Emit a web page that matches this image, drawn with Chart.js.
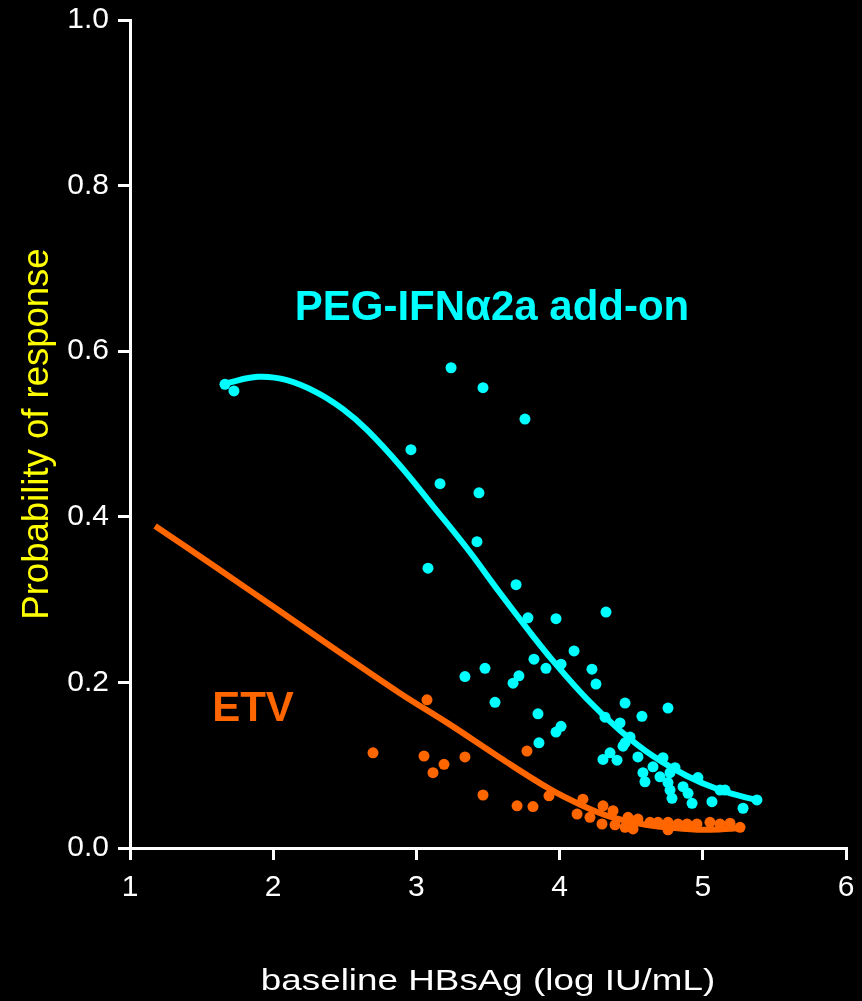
<!DOCTYPE html>
<html>
<head>
<meta charset="utf-8">
<script src="https://cdn.jsdelivr.net/npm/chart.js@4/dist/chart.umd.min.js"></script>
<style>
  html, body { margin: 0; padding: 0; background: #000; overflow: hidden; }
  #wrap { width: 862px; height: 1001px; position: relative; }
</style>
</head>
<body>
<div id="wrap"><canvas id="chart"></canvas></div>
<script>
// PEG-IFN add-on: observed points
const pegX = [1.663, 1.726, 3.242, 3.465, 3.758, 2.962, 3.165, 3.437, 3.423, 3.081,
  3.696, 3.779, 3.975, 4.324, 3.339, 3.479, 3.549, 3.675, 3.716, 3.821,
  3.905, 4.010, 4.101, 4.226, 4.254, 3.849, 3.856, 3.975, 4.010, 4.457,
  4.422, 4.575, 4.757, 4.317, 4.492, 4.443, 4.303, 4.352, 4.401, 4.457,
  4.547, 4.722, 4.582, 4.596, 4.652, 4.701, 4.771, 4.806, 4.757, 4.771,
  4.785, 4.862, 4.897, 4.925, 4.966, 5.064, 5.120, 5.155, 5.281, 5.378];
const pegY = [0.560, 0.552, 0.580, 0.556, 0.518, 0.481, 0.440, 0.429, 0.370, 0.338,
  0.318, 0.278, 0.277, 0.285, 0.207, 0.217, 0.176, 0.199, 0.208, 0.228,
  0.217, 0.222, 0.238, 0.216, 0.198, 0.162, 0.127, 0.140, 0.147, 0.175,
  0.151, 0.159, 0.169, 0.158, 0.134, 0.123, 0.107, 0.115, 0.106, 0.127,
  0.110, 0.109, 0.091, 0.080, 0.098, 0.086, 0.091, 0.097, 0.079, 0.070,
  0.060, 0.074, 0.066, 0.054, 0.085, 0.056, 0.070, 0.070, 0.048, 0.058];

// PEG-IFN add-on: fitted curve
const pegFitX = [1.663, 1.894, 2.096, 2.306, 2.487, 2.655, 2.885, 3.116, 3.353, 3.584,
  3.814, 3.954, 4.191, 4.422, 4.652, 4.890, 5.120, 5.351, 5.400];
const pegFitY = [0.561, 0.569, 0.565, 0.550, 0.530, 0.505, 0.462, 0.413, 0.362, 0.308,
  0.256, 0.226, 0.180, 0.142, 0.111, 0.087, 0.070, 0.059, 0.058];

// ETV: observed points
const etvX = [2.697, 3.074, 3.053, 3.116, 3.193, 3.339, 3.465, 3.703, 3.814, 3.772,
  3.926, 4.163, 4.122, 4.212, 4.296, 4.303, 4.373, 4.387, 4.478, 4.457,
  4.513, 4.547, 4.631, 4.687, 4.757, 4.757, 4.827, 4.890, 4.959, 5.050,
  5.120, 5.190, 5.260];
const etvY = [0.115, 0.179, 0.111, 0.091, 0.101, 0.110, 0.064, 0.051, 0.050, 0.117,
  0.063, 0.059, 0.041, 0.037, 0.029, 0.051, 0.045, 0.028, 0.037, 0.025,
  0.023, 0.035, 0.031, 0.031, 0.031, 0.022, 0.029, 0.029, 0.029, 0.031,
  0.029, 0.030, 0.025];

// ETV: fitted curve
const etvFitX = [1.175, 1.600, 2.030, 2.450, 2.885, 3.235, 3.584, 3.933, 4.150, 4.352,
  4.600, 4.890, 5.050, 5.280];
const etvFitY = [0.389, 0.339, 0.288, 0.238, 0.187, 0.149, 0.109, 0.071, 0.052, 0.038,
  0.028, 0.023, 0.022, 0.024];

const xTicks = [1, 2, 3, 4, 5, 6];
const yTicks = [0, 0.2, 0.4, 0.6, 0.8, 1.0];
const xTitle = 'baseline HBsAg (log IU/mL)';

// text labels placed in data coordinates
const labels = [
  { text: 'PEG-IFNα2a add-on', x: 3.528, y: 0.652, color: '#00ffff' },
  { text: 'ETV', x: 1.859, y: 0.167, color: '#ff6600' }
];

const CYAN = '#00ffff';
const ORANGE = '#ff6600';
const WHITE = '#ffffff';
const FONT = '"Liberation Sans", Arial, sans-serif';

const toPts = (xs, ys) => xs.map((x, i) => ({ x, y: ys[i] }));

const bgPlugin = {
  id: 'bg',
  beforeDraw(chart) {
    const ctx = chart.ctx;
    ctx.save();
    ctx.fillStyle = '#000';
    ctx.fillRect(0, 0, chart.width, chart.height);
    ctx.restore();
  }
};

const labelPlugin = {
  id: 'seriesLabels',
  afterDatasetsDraw(chart) {
    const { ctx, scales, chartArea } = chart;
    ctx.save();
    ctx.font = 'bold 42px ' + FONT;
    ctx.textAlign = 'center';
    ctx.textBaseline = 'middle';
    labels.forEach(l => {
      ctx.fillStyle = l.color;
      ctx.fillText(l.text, scales.x.getPixelForValue(l.x), scales.y.getPixelForValue(l.y));
    });
    ctx.restore();

    // x axis title: the original is set in a wide face, so stretch it a bit
    ctx.save();
    ctx.font = '29px ' + FONT;
    ctx.fillStyle = WHITE;
    ctx.textAlign = 'center';
    ctx.textBaseline = 'alphabetic';
    ctx.translate((chartArea.left + chartArea.right) / 2, chart.height - 11);
    ctx.scale(1.27, 1);
    ctx.fillText(xTitle, 0, 0);
    ctx.restore();
  }
};

new Chart(document.getElementById('chart'), {
  type: 'scatter',
  plugins: [bgPlugin, labelPlugin],
  data: {
    datasets: [
      {
        label: 'PEG fit',
        data: toPts(pegFitX, pegFitY),
        showLine: true,
        borderColor: CYAN,
        borderWidth: 6,
        pointRadius: 0,
        tension: 0.4
      },
      {
        label: 'PEG',
        data: toPts(pegX, pegY),
        backgroundColor: CYAN,
        borderWidth: 0,
        pointRadius: 5.5
      },
      {
        label: 'ETV fit',
        data: toPts(etvFitX, etvFitY),
        showLine: true,
        borderColor: ORANGE,
        borderWidth: 6,
        pointRadius: 0,
        tension: 0.4
      },
      {
        label: 'ETV',
        data: toPts(etvX, etvY),
        backgroundColor: ORANGE,
        borderWidth: 0,
        pointRadius: 5.5
      }
    ]
  },
  options: {
    responsive: true,
    maintainAspectRatio: false,
    animation: false,
    layout: { padding: { top: 20, right: 16, left: 0, bottom: 0 } },
    plugins: {
      legend: { display: false },
      tooltip: { enabled: false }
    },
    scales: {
      x: {
        type: 'linear',
        min: 1,
        max: 6,
        afterBuildTicks: s => { s.ticks = xTicks.map(v => ({ value: v })); },
        afterFit: s => { s.height = 153; s.paddingLeft = 0; s.paddingRight = 0; },
        ticks: {
          color: WHITE,
          font: { family: FONT, size: 30 },
          padding: 10,
          callback: v => String(v)
        },
        grid: { display: true, drawOnChartArea: false, drawTicks: true, tickLength: 12, color: WHITE, lineWidth: 3 },
        border: { display: true, color: WHITE, width: 3 }
      },
      y: {
        type: 'linear',
        min: 0,
        max: 1,
        afterBuildTicks: s => { s.ticks = yTicks.map(v => ({ value: v })); },
        afterFit: s => { s.width = 130; s.paddingTop = 0; s.paddingBottom = 0; },
        ticks: {
          color: WHITE,
          font: { family: FONT, size: 30 },
          padding: 9,
          callback: v => v.toFixed(1)
        },
        grid: { display: true, drawOnChartArea: false, drawTicks: true, tickLength: 12, color: WHITE, lineWidth: 3 },
        border: { display: true, color: WHITE, width: 3 },
        title: {
          display: true,
          text: 'Probability of response',
          color: '#ffff00',
          font: { family: FONT, size: 36.5 },
          padding: { top: 16, bottom: 0 }
        }
      }
    }
  }
});
</script>
</body>
</html>
